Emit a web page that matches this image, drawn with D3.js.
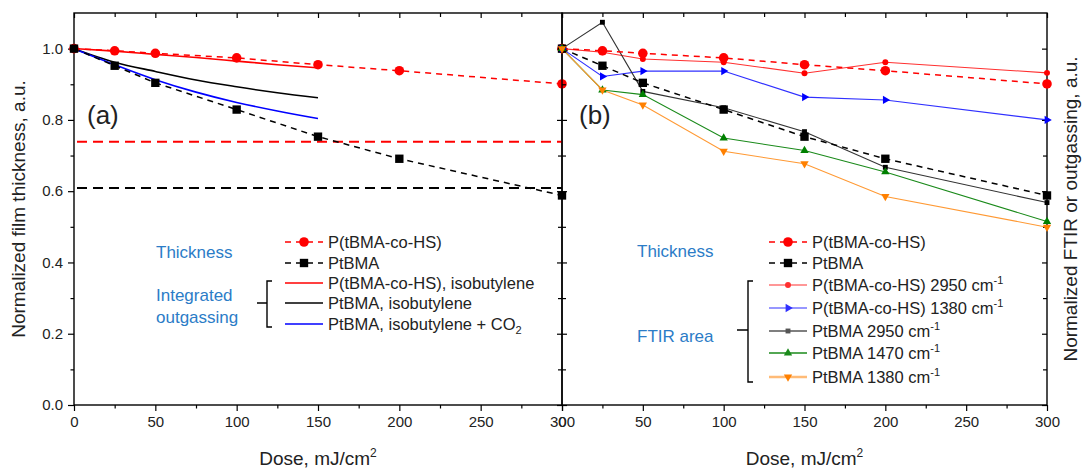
<!DOCTYPE html>
<html>
<head>
<meta charset="utf-8">
<script src="https://cdn.jsdelivr.net/npm/d3@7"></script>
<style>
  body { margin: 0; background: #fff; }
  text { font-family: "Liberation Sans", Arial, sans-serif; }
</style>
</head>
<body>
<svg id="chart" width="1083" height="470"></svg>
<script>
(function(){

// ---- data ----
var doses = [0, 25, 50, 100, 150, 200, 300];
var thickCoHS  = [1.0, 0.994, 0.987, 0.974, 0.955, 0.938, 0.901];
var thickPtBMA = [1.0, 0.952, 0.904, 0.829, 0.753, 0.691, 0.588];
var refLines = [0.739, 0.609];               // red, black horizontal dashes

var outDoses = [0, 25, 50, 75, 100, 125, 150];
var outCoHSIso      = [1.0, 0.993, 0.984, 0.975, 0.965, 0.955, 0.946];
var outPtBMAIso     = [1.0, 0.962, 0.936, 0.912, 0.893, 0.876, 0.862];
var outPtBMAIsoCO2  = [1.0, 0.955, 0.913, 0.878, 0.849, 0.825, 0.804];

var ftirCoHS2950  = [1.0, 0.990, 0.971, 0.962, 0.931, 0.962, 0.932];
var ftirCoHS1380  = [1.0, 0.922, 0.937, 0.937, 0.864, 0.856, 0.800];
var ftirPtBMA2950 = [1.0, 1.074, 0.880, 0.834, 0.767, 0.667, 0.568];
var ftirPtBMA1470 = [1.0, 0.884, 0.871, 0.749, 0.714, 0.654, 0.515];
var ftirPtBMA1380 = [1.0, 0.884, 0.842, 0.712, 0.677, 0.585, 0.499];

var xMajor = [0, 50, 100, 150, 200, 250, 300];
var xMinor = [25, 75, 125, 175, 225, 275];
var yMajor = [0, 0.2, 0.4, 0.6, 0.8, 1.0];
var yMinor = [0.1, 0.3, 0.5, 0.7, 0.9];

var svg = d3.select("#chart");
var top = 13, bottom = 405;
var blueTxt = "#2b7cc7";

var y = d3.scaleLinear().domain([0, 1.1]).range([bottom, top]);
var xa = d3.scaleLinear().domain([0, 300]).range([74, 562]);
var xb = d3.scaleLinear().domain([0, 300]).range([562, 1047]);

function frame(x, showYLabels) {
  var x0 = x.range()[0], x1 = x.range()[1];
  var g = svg.append("g");
  // bottom, outward
  g.append("g").attr("transform", "translate(0," + bottom + ")")
    .call(d3.axisBottom(x).tickValues(xMajor).tickSize(6).tickPadding(5).tickFormat(d3.format("d")));
  g.append("g").attr("transform", "translate(0," + bottom + ")")
    .call(d3.axisBottom(x).tickValues(xMinor).tickSize(3.5).tickFormat(""));
  // top, inward
  g.append("g").attr("transform", "translate(0," + top + ")")
    .call(d3.axisBottom(x).tickValues(xMajor).tickSize(5).tickFormat(""));
  g.append("g").attr("transform", "translate(0," + top + ")")
    .call(d3.axisBottom(x).tickValues(xMinor).tickSize(4).tickFormat(""));
  // left
  if (showYLabels) {
    g.append("g").attr("transform", "translate(" + x0 + ",0)")
      .call(d3.axisLeft(y).tickValues(yMajor).tickSize(6).tickPadding(5).tickFormat(d3.format(".1f")));
    g.append("g").attr("transform", "translate(" + x0 + ",0)")
      .call(d3.axisLeft(y).tickValues(yMinor).tickSize(3.5).tickFormat(""));
  } else {
    g.append("g").attr("transform", "translate(" + x0 + ",0)")
      .call(d3.axisRight(y).tickValues(yMajor).tickSize(5).tickFormat(""));
    g.append("g").attr("transform", "translate(" + x0 + ",0)")
      .call(d3.axisRight(y).tickValues(yMinor).tickSize(4).tickFormat(""));
  }
  // right, inward
  g.append("g").attr("transform", "translate(" + x1 + ",0)")
    .call(d3.axisLeft(y).tickValues(yMajor).tickSize(5).tickFormat(""));
  g.append("g").attr("transform", "translate(" + x1 + ",0)")
    .call(d3.axisLeft(y).tickValues(yMinor).tickSize(4).tickFormat(""));

  g.selectAll(".domain").remove();
  g.selectAll(".tick line").attr("stroke", "#000").attr("stroke-width", 1.2);
  g.selectAll(".tick text").attr("font-size", "15px").attr("fill", "#222")
    .attr("font-family", "Liberation Sans, Arial, sans-serif");
  g.append("rect").attr("x", x0).attr("y", top).attr("width", x1 - x0).attr("height", bottom - top)
    .attr("fill", "none").attr("stroke", "#000").attr("stroke-width", 1.4);
}

function pts(xs, ys) { return xs.map(function(d, i){ return [d, ys[i]]; }); }

function drawLine(x, data, color, width, dash, curve) {
  var line = d3.line().x(function(d){ return x(d[0]); }).y(function(d){ return y(d[1]); })
    .curve(curve || d3.curveLinear);
  svg.append("path").datum(data).attr("d", line).attr("fill", "none")
    .attr("stroke", color).attr("stroke-width", width)
    .attr("stroke-dasharray", dash || null);
}

function drawMarks(x, data, type, size, color, rot) {
  svg.append("g").selectAll("path").data(data).enter().append("path")
    .attr("d", d3.symbol().type(type).size(size))
    .attr("transform", function(d){ return "translate(" + x(d[0]) + "," + y(d[1]) + ")" + (rot ? " rotate(" + rot + ")" : ""); })
    .attr("fill", color);
}

// ---------- panel (a) ----------
frame(xa, true);
refLines.forEach(function(v, i){
  svg.append("line").attr("x1", xa(0) + 3).attr("x2", xa(300)).attr("y1", y(v)).attr("y2", y(v))
    .attr("stroke", i === 0 ? "#ff0000" : "#000").attr("stroke-width", 2).attr("stroke-dasharray", "10,6");
});
drawLine(xa, pts(outDoses, outCoHSIso), "#ff0000", 1.6, null, d3.curveMonotoneX);
drawLine(xa, pts(outDoses, outPtBMAIso), "#000", 1.6, null, d3.curveMonotoneX);
drawLine(xa, pts(outDoses, outPtBMAIsoCO2), "#0000ff", 1.6, null, d3.curveMonotoneX);
drawLine(xa, pts(doses, thickCoHS), "#ff0000", 1.5, "6,5");
drawLine(xa, pts(doses, thickPtBMA), "#000", 1.5, "6,5");
drawMarks(xa, pts(doses, thickCoHS), d3.symbolCircle, 72, "#ff0000");
drawMarks(xa, pts(doses, thickPtBMA), d3.symbolSquare, 70, "#000");

// ---------- panel (b) ----------
frame(xb, false);
drawLine(xb, pts(doses, ftirCoHS2950), "#ff3030", 1.1);
drawLine(xb, pts(doses, ftirCoHS1380), "#3030ff", 1.1);
drawLine(xb, pts(doses, ftirPtBMA2950), "#333", 1.1);
drawLine(xb, pts(doses, ftirPtBMA1470), "#1a8a1a", 1.1);
drawLine(xb, pts(doses, ftirPtBMA1380), "#ff9933", 1.1);
drawLine(xb, pts(doses, thickCoHS), "#ff0000", 1.5, "6,5");
drawLine(xb, pts(doses, thickPtBMA), "#000", 1.5, "6,5");
drawMarks(xb, pts(doses, thickCoHS), d3.symbolCircle, 72, "#ff0000");
drawMarks(xb, pts(doses, thickPtBMA), d3.symbolSquare, 70, "#000");
drawMarks(xb, pts(doses, ftirCoHS2950), d3.symbolCircle, 28, "#ff0000");
drawMarks(xb, pts(doses, ftirCoHS1380), d3.symbolTriangle, 30, "#0000ff", 90);
drawMarks(xb, pts(doses, ftirPtBMA2950), d3.symbolSquare, 24, "#000");
drawMarks(xb, pts(doses, ftirPtBMA1470), d3.symbolTriangle, 30, "#008000");
drawMarks(xb, pts(doses, ftirPtBMA1380), d3.symbolTriangle, 30, "#ff8000", 180);

// ---------- labels ----------
function label(x, yy, str, size, color, anchor) {
  return svg.append("text").attr("x", x).attr("y", yy).attr("font-size", size + "px")
    .attr("fill", color || "#222").attr("text-anchor", anchor || "start").text(str);
}
label(87, 124, "(a)", 26, "#222");
label(579, 124, "(b)", 26, "#222");

[xa, xb].forEach(function(x){
  var t = label((x.range()[0] + x.range()[1]) / 2, 465, "Dose, mJ/cm", 19, "#222", "middle");
  t.append("tspan").attr("font-size", "12px").attr("dy", -8).text("2");
});
svg.append("text").attr("transform", "translate(25," + ((top + bottom) / 2) + ") rotate(-90)")
  .attr("text-anchor", "middle").attr("font-size", "19px").attr("fill", "#222")
  .text("Normalized film thickness, a.u.");
svg.append("text").attr("transform", "translate(1077," + ((top + bottom) / 2) + ") rotate(-90)")
  .attr("text-anchor", "middle").attr("font-size", "19px").attr("fill", "#222")
  .text("Normalized FTIR or outgassing, a.u.");

// ---------- legends ----------
function legendRow(lx, ly, color, dash, width, type, size, rot, parts) {
  svg.append("line").attr("x1", lx).attr("x2", lx + 38).attr("y1", ly).attr("y2", ly)
    .attr("stroke", color).attr("stroke-width", width).attr("stroke-dasharray", dash || null);
  if (type) {
    svg.append("path").attr("d", d3.symbol().type(type).size(size)())
      .attr("transform", "translate(" + (lx + 19) + "," + ly + ")" + (rot ? " rotate(" + rot + ")" : ""))
      .attr("fill", color === "#ffbb77" ? "#ff8000" : color);
  }
  var t = svg.append("text").attr("x", lx + 43).attr("y", ly).attr("dy", "0.36em")
    .attr("font-size", "16.5px").attr("fill", "#222");
  parts.forEach(function(p){
    var s = t.append("tspan").text(p[0]);
    if (p[1] === "sup") s.attr("font-size", "11px").attr("dy", -7);
    if (p[1] === "sub") s.attr("font-size", "11px").attr("dy", 4);
  });
}
function brace(bx, y0, y1, ym, left) {
  var p = d3.path();
  p.moveTo(bx + 5, y0); p.lineTo(bx, y0); p.lineTo(bx, y1); p.lineTo(bx + 5, y1);
  p.moveTo(bx - left, ym); p.lineTo(bx, ym);
  svg.append("path").attr("d", p.toString()).attr("fill", "none").attr("stroke", "#000").attr("stroke-width", 1.4);
}

// panel (a)
label(156, 258, "Thickness", 17, blueTxt);
label(156, 301, "Integrated", 17, blueTxt);
label(156, 323, "outgassing", 17, blueTxt);
legendRow(285, 242, "#ff0000", "6,5", 1.5, d3.symbolCircle, 72, 0, [["P(tBMA-co-HS)"]]);
legendRow(285, 263, "#000", "6,5", 1.5, d3.symbolSquare, 70, 0, [["PtBMA"]]);
legendRow(285, 283, "#ff0000", null, 1.6, null, 0, 0, [["P(tBMA-co-HS), isobutylene"]]);
legendRow(285, 303, "#000", null, 1.6, null, 0, 0, [["PtBMA, isobutylene"]]);
legendRow(285, 324, "#0000ff", null, 1.6, null, 0, 0, [["PtBMA, isobutylene + CO"], ["2", "sub"]]);
brace(267, 281, 327, 303, 10);

// panel (b)
label(637, 257, "Thickness", 17, blueTxt);
label(637, 342, "FTIR area", 17, blueTxt);
legendRow(769, 242, "#ff0000", "6,5", 1.5, d3.symbolCircle, 72, 0, [["P(tBMA-co-HS)"]]);
legendRow(769, 263, "#000", "6,5", 1.5, d3.symbolSquare, 70, 0, [["PtBMA"]]);
legendRow(769, 285, "#ff3030", null, 1.1, d3.symbolCircle, 28, 0, [["P(tBMA-co-HS) 2950 cm"], ["-1", "sup"]]);
legendRow(769, 308, "#3030ff", null, 1.1, d3.symbolTriangle, 30, 90, [["P(tBMA-co-HS) 1380 cm"], ["-1", "sup"]]);
legendRow(769, 331, "#555", null, 1.3, d3.symbolSquare, 24, 0, [["PtBMA 2950 cm"], ["-1", "sup"]]);
legendRow(769, 353, "#1a8a1a", null, 1.3, d3.symbolTriangle, 30, 0, [["PtBMA 1470 cm"], ["-1", "sup"]]);
legendRow(769, 377, "#ffbb77", null, 2.5, d3.symbolTriangle, 30, 180, [["PtBMA 1380 cm"], ["-1", "sup"]]);
brace(748, 281, 382, 330, 11);

})();
</script>
</body>
</html>
